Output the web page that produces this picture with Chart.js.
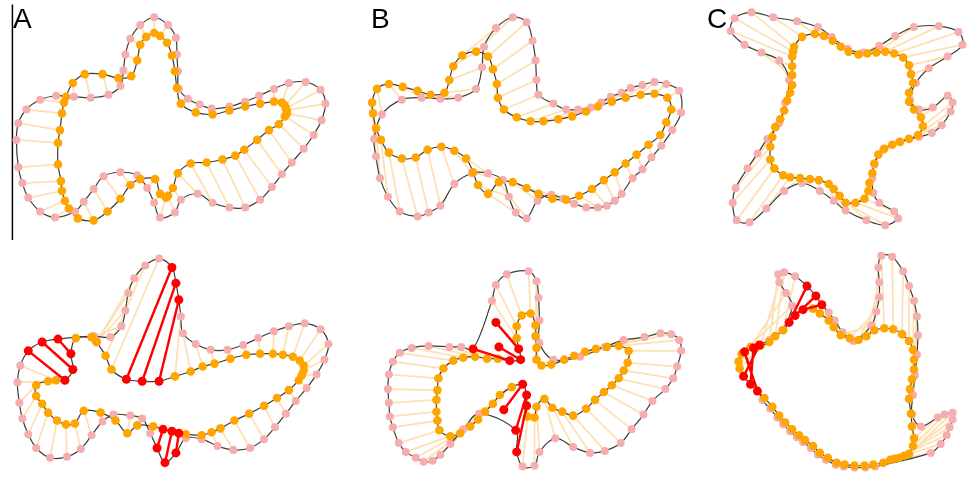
<!DOCTYPE html>
<html>
<head>
<meta charset="utf-8">
<script src="https://cdn.jsdelivr.net/npm/chart.js@4.4.1/dist/chart.umd.min.js"></script>
<style>
  html, body { margin: 0; padding: 0; background: #ffffff; }
  #wrap { position: relative; width: 970px; height: 477px; overflow: hidden; }
  #c { position: absolute; left: 0; top: 0; }
  .lbl { position: absolute; font-family: "Liberation Sans", Arial, sans-serif; font-size: 28px; line-height: 28px; color: #000; }
</style>
</head>
<body>
<div id="wrap">
  <canvas id="c" width="970" height="477"></canvas>
  <div class="lbl" style="left:13px; top:5px;">A</div>
  <div class="lbl" style="left:371px; top:5px;">B</div>
  <div class="lbl" style="left:707px; top:5px;">C</div>
</div>
<script>
// ---------- data (x, y in the figure's coordinate frame) ----------
const panelLabels = ["A", "B", "C"];

// Panel A, top row
const A1_pink = [[151,13],[165,21],[173,34],[174,51],[175,68],[176,86],[185,96],[197,102],[209,106],[227,104],[243,99],[257,93],[272,86],[287,80],[304,79],[319,87],[324,101],[320,118],[312,133],[302,147],[290,161],[280,173],[270,186],[258,199],[243,207],[227,207],[210,202],[195,193],[178,199],[172,212],[157,217],[151,202],[144,187],[134,174],[117,171],[100,175],[90,188],[80,201],[71,211],[51,217],[36,211],[24,197],[18,182],[14,166],[12,138],[14,121],[22,107],[36,97],[52,93],[70,94],[87,95],[105,92],[117,83],[120,67],[122,51],[127,35],[137,21]];
const A1_orange = [[151,29],[157,32],[164,39],[169,52],[172,68],[174,85],[178,101],[193,110],[210,112],[227,108],[243,104],[258,101],[272,99],[280,100],[283,103],[284,106],[285,108],[285,111],[283,114],[277,122],[267,128],[255,138],[242,148],[233,154],[220,158],[204,161],[188,162],[175,172],[170,187],[165,195],[163,197],[157,193],[152,178],[137,178],[127,184],[117,198],[104,211],[90,220],[74,218],[65,208],[61,200],[58,190],[57,180],[54,163],[54,141],[56,128],[58,111],[60,100],[62,94],[69,80],[81,71],[99,71],[115,75],[128,73],[134,57],[137,41],[143,33]];

// Panel B, top row
const B1_pink = [[513,13],[527,18],[533,37],[536,57],[537,77],[539,92],[554,101],[567,107],[579,107],[592,105],[602,100],[612,94],[623,90],[632,85],[644,82],[656,79],[668,81],[681,88],[683,110],[674,128],[663,144],[653,156],[644,168],[634,177],[623,193],[616,200],[608,205],[599,207],[587,207],[575,203],[564,198],[552,194],[538,200],[527,218],[516,212],[509,196],[503,179],[488,172],[472,172],[454,183],[440,205],[428,212],[417,216],[399,211],[387,196],[379,177],[375,155],[373,137],[381,112],[401,97],[421,95],[440,96],[458,95],[476,86],[482,64],[484,43],[496,24]];
const B1_orange = [[476,48],[488,53],[493,66],[497,81],[498,95],[504,107],[517,115],[531,119],[544,119],[559,117],[573,114],[587,109],[599,104],[613,99],[627,95],[642,92],[656,91],[669,95],[673,107],[668,120],[662,133],[650,143],[638,153],[627,162],[616,171],[605,179],[593,188],[580,195],[567,199],[553,198],[539,193],[527,187],[513,181],[499,181],[488,193],[478,184],[473,171],[466,157],[454,149],[441,145],[427,148],[415,156],[401,157],[388,151],[380,138],[375,126],[372,111],[371,100],[376,86],[388,81],[402,84],[417,88],[430,92],[444,90],[449,77],[453,63],[462,52]];

// Panel C, top row
const C1_pink = [[737,14],[754,8],[776,13],[800,17],[821,23],[835,33],[851,45],[867,49],[883,42],[899,32],[918,23],[943,22],[963,28],[967,41],[952,53],[933,65],[920,80],[914,97],[923,107],[937,105],[952,93],[957,100],[955,109],[946,123],[936,131],[923,135],[903,140],[887,148],[878,163],[876,177],[877,192],[883,202],[898,211],[902,218],[889,225],[870,220],[849,210],[837,200],[823,190],[805,182],[787,190],[769,208],[752,222],[739,220],[735,202],[738,187],[750,167],[760,152],[770,137],[782,121],[788,100],[792,77],[782,57],[764,49],[747,41],[733,27]];
const C1_orange = [[796,48],[797,43],[805,33],[818,30],[827,32],[836,37],[844,43],[852,48],[862,51],[871,50],[880,49],[889,48],[898,50],[907,54],[913,62],[915,71],[917,80],[913,90],[913,99],[918,107],[925,115],[927,124],[922,133],[913,137],[904,140],[896,143],[888,147],[882,153],[878,162],[876,172],[873,182],[872,190],[868,198],[859,202],[849,202],[843,195],[837,188],[832,183],[822,179],[813,178],[803,177],[793,176],[786,174],[777,167],[773,158],[773,145],[775,135],[778,125],[783,117],[787,108],[790,98],[793,90],[795,82],[795,72],[795,63],[795,53]];

// Panel A, bottom row
const A2_pink = [[169,268],[173,284],[176,301],[178,318],[180,335],[193,346],[208,352],[225,352],[241,347],[256,340],[272,333],[287,328],[303,325],[319,331],[327,346],[323,362],[315,377],[305,391],[294,404],[284,417],[273,431],[262,443],[248,452],[231,454],[215,450],[199,443],[183,442],[173,457],[162,467],[154,452],[147,437],[139,422],[127,419],[110,418],[99,425],[88,439],[77,453],[63,461],[46,462],[32,452],[24,438],[18,422],[15,406],[13,385],[16,368],[24,353],[38,344],[54,341],[90,338],[107,339],[118,328],[122,312],[125,294],[131,279],[142,266],[156,259]];
const A2_orange = [[123,382],[139,384],[156,384],[172,379],[188,374],[200,369],[212,366],[228,361],[244,357],[258,356],[271,356],[281,357],[291,359],[298,363],[302,368],[302,373],[300,378],[297,383],[287,393],[275,401],[262,409],[247,417],[232,424],[218,432],[209,436],[199,439],[183,438],[176,437],[169,435],[160,433],[150,430],[134,429],[124,437],[112,424],[97,416],[80,414],[71,427],[62,428],[53,424],[44,416],[38,407],[32,399],[32,388],[44,384],[52,383],[61,383],[69,372],[67,356],[72,340],[88,339],[88,339],[93,344],[93,344],[93,344],[102,358],[108,372]];
const A2_red = [0,1,2,27,28,29,45,46,47];

// Panel B, bottom row
const B2_pink = [[399,355],[411,350],[428,348],[449,349],[461,349],[473,351],[499,349],[496,324],[492,302],[496,286],[507,275],[529,272],[537,282],[539,299],[540,322],[540,345],[554,362],[581,359],[606,349],[625,342],[646,339],[662,335],[673,336],[681,342],[683,353],[679,369],[675,381],[667,392],[654,404],[645,418],[633,433],[622,447],[606,455],[591,457],[574,451],[556,442],[540,456],[535,470],[523,471],[517,456],[516,434],[504,413],[479,417],[463,433],[450,448],[440,459],[432,465],[423,466],[415,462],[405,456],[398,447],[392,431],[389,420],[388,406],[387,392],[388,377],[392,364]];
const B2_orange = [[453,363],[463,360],[475,359],[487,361],[498,361],[510,363],[521,362],[519,351],[517,340],[517,328],[522,317],[531,315],[536,327],[536,338],[537,350],[537,362],[542,368],[552,367],[565,362],[575,358],[586,354],[597,351],[608,349],[620,348],[630,353],[629,365],[625,373],[620,381],[613,388],[605,395],[596,403],[587,412],[574,419],[563,415],[553,411],[545,402],[537,410],[535,421],[528,420],[527,409],[527,398],[523,387],[512,390],[500,398],[493,407],[485,415],[478,423],[470,430],[460,437],[450,440],[439,434],[437,424],[436,415],[436,403],[437,393],[438,381],[443,371]];
const B2_red = [5,6,7,39,40,41];
const B2_offOutline = [6,7,41];

// Panel C, bottom row
const C2_pink = [[747,354],[756,350],[762,347],[772,342],[785,332],[795,307],[789,294],[782,283],[781,275],[787,273],[798,277],[810,287],[819,297],[825,306],[832,314],[838,322],[846,334],[857,343],[875,327],[880,313],[883,298],[883,283],[882,268],[885,256],[896,257],[907,272],[913,287],[918,302],[921,318],[922,337],[921,357],[919,378],[917,398],[916,418],[925,430],[942,421],[949,418],[957,416],[957,423],[954,431],[951,439],[945,448],[935,457],[879,471],[869,472],[858,472],[847,471],[839,469],[829,464],[821,459],[814,452],[806,446],[800,441],[793,435],[786,428],[780,421],[773,412],[765,403]];
const C2_orange = [[760,394],[753,387],[746,379],[742,371],[741,364],[744,356],[753,349],[763,348],[772,344],[778,338],[786,332],[792,324],[798,317],[806,311],[816,310],[823,315],[832,322],[837,329],[844,337],[853,340],[862,342],[870,338],[878,332],[888,330],[897,331],[906,336],[913,343],[917,352],[918,362],[918,372],[916,382],[914,392],[913,402],[915,417],[916,430],[918,442],[917,450],[913,458],[908,460],[903,462],[898,463],[894,464],[887,467],[877,469],[868,470],[858,470],[848,469],[840,467],[831,462],[823,457],[816,450],[808,444],[802,439],[795,433],[788,426],[782,419],[775,410],[767,401]];
const C2_red = [0,1,2,11,12,13];

// divider rule at the left of panel A (top row)
const dividerLine = [[8,0],[8,240]];

// ---------- build datasets ----------
const panels = [
  { pink: A1_pink, orange: A1_orange, red: [], off: [] },
  { pink: B1_pink, orange: B1_orange, red: [], off: [] },
  { pink: C1_pink, orange: C1_orange, red: [], off: [] },
  { pink: A2_pink, orange: A2_orange, red: A2_red, off: [] },
  { pink: B2_pink, orange: B2_orange, red: B2_red, off: B2_offOutline },
  { pink: C2_pink, orange: C2_orange, red: C2_red, off: [] }
];

const P = ([x, y]) => ({ x, y });
const GAP = { x: null, y: null };

const beige = [], redLinks = [], pinkPts = [], orangePts = [], redPts = [];
const outlines = [];

function loop(arr) {
  const n = arr.length;
  return [arr[n - 1], ...arr, arr[0], arr[1]].map(P);
}

panels.forEach(pn => {
  const n = Math.min(pn.pink.length, pn.orange.length);
  for (let i = 0; i < n; i++) {
    const isRed = pn.red.includes(i);
    const target = isRed ? redLinks : beige;
    target.push(P(pn.pink[i]), P(pn.orange[i]), GAP);
    if (isRed) { redPts.push(P(pn.pink[i]), P(pn.orange[i])); }
  }
  pn.pink.forEach((p, i) => { if (!pn.red.includes(i)) pinkPts.push(P(p)); });
  pn.orange.forEach((p, i) => { if (!pn.red.includes(i)) orangePts.push(P(p)); });
  outlines.push(loop(pn.pink.filter((p, i) => !pn.off.includes(i))));
  outlines.push(loop(pn.orange));
});

const datasets = [];
datasets.push({
  data: beige, showLine: true, spanGaps: false, borderColor: '#fde1b6', borderWidth: 1.8,
  pointRadius: 0, pointHoverRadius: 0, order: 6, clip: false
});
outlines.forEach(pts => {
  const last = pts.length - 1;
  datasets.push({
    data: pts, showLine: true, borderColor: '#3c3c3c', borderWidth: 1.2, tension: 0.35,
    pointRadius: 0, pointHoverRadius: 0, order: 5, clip: false,
    segment: { borderColor: ctx => (ctx.p0DataIndex === 0 || ctx.p1DataIndex === last) ? 'rgba(0,0,0,0)' : undefined }
  });
});
datasets.push({
  data: dividerLine.map(P), showLine: true, borderColor: '#000000', borderWidth: 1.5,
  pointRadius: 0, order: 5, clip: false
});
datasets.push({
  data: pinkPts, showLine: false, backgroundColor: '#f6adad', borderWidth: 0,
  pointRadius: 4, pointHoverRadius: 4, order: 4, clip: false
});
datasets.push({
  data: orangePts, showLine: false, backgroundColor: '#ffa500', borderWidth: 0,
  pointRadius: 4.3, pointHoverRadius: 4.3, order: 3, clip: false
});
datasets.push({
  data: redLinks, showLine: true, spanGaps: false, borderColor: '#ff0000', borderWidth: 2.4,
  pointRadius: 0, pointHoverRadius: 0, order: 2, clip: false
});
datasets.push({
  data: redPts, showLine: false, backgroundColor: '#ff0000', borderWidth: 0,
  pointRadius: 4.5, pointHoverRadius: 4.5, order: 1, clip: false
});

new Chart(document.getElementById('c'), {
  type: 'scatter',
  data: { datasets },
  options: {
    responsive: false,
    devicePixelRatio: 1,
    animation: false,
    events: [],
    layout: { padding: 0 },
    plugins: { legend: { display: false }, tooltip: { enabled: false }, title: { display: false } },
    scales: {
      x: { type: 'linear', min: 0, max: 970, display: false },
      y: { type: 'linear', min: 0, max: 477, reverse: true, display: false }
    }
  }
});
</script>
</body>
</html>
